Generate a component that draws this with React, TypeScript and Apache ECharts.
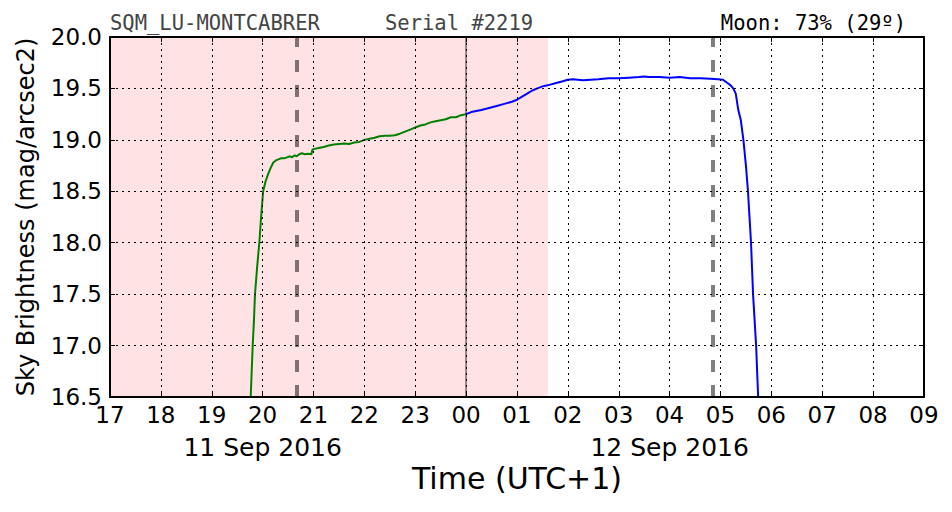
import React, { useEffect, useRef } from "react";
import * as echarts from "echarts";

// Time in decimal hours since 11 Sep 2016 00:00 (UTC+1); >24 means 12 Sep
const greenHours = [
  19.74, 19.766, 19.785, 19.805, 19.83, 19.85, 19.89, 19.935, 19.97, 20.01, 20.06, 20.11, 20.16, 20.21,
  20.26, 20.31, 20.36, 20.42, 20.48, 20.54, 20.58, 20.63, 20.67, 20.72, 20.77, 20.83, 20.9, 20.96,
  20.975, 21.0, 21.1, 21.2, 21.3, 21.4, 21.5, 21.6, 21.7, 21.8, 21.9, 22.0, 22.1, 22.2, 22.3, 22.4,
  22.5, 22.6, 22.7, 22.8, 22.9, 23.0, 23.1, 23.2, 23.3, 23.4, 23.5, 23.6, 23.7, 23.8, 23.9, 24.0,
];
const greenValues = [
  16.3, 16.5, 16.75, 17.0, 17.25, 17.5, 17.75, 18.0, 18.25, 18.5, 18.6, 18.67, 18.73, 18.78,
  18.8, 18.81, 18.82, 18.82, 18.83, 18.84, 18.83, 18.85, 18.84, 18.86, 18.87, 18.86, 18.865, 18.86,
  18.9, 18.91, 18.92, 18.93, 18.945, 18.955, 18.96, 18.965, 18.96, 18.975, 18.98, 19.0, 19.01, 19.02, 19.035, 19.04,
  19.04, 19.045, 19.06, 19.08, 19.1, 19.12, 19.14, 19.15, 19.17, 19.18, 19.19, 19.2, 19.22, 19.22, 19.24, 19.25,
];
const blueHours = [
  24.0, 24.1, 24.2, 24.3, 24.45, 24.6, 24.75, 24.9, 25.0, 25.1, 25.2, 25.3, 25.4, 25.5, 25.6, 25.75,
  25.9, 26.0, 26.1, 26.2, 26.3, 26.45, 26.6, 26.8, 27.0, 27.2, 27.4, 27.5, 27.6, 27.8, 28.0, 28.2,
  28.4, 28.6, 28.8, 28.95, 29.05, 29.13, 29.2, 29.25, 29.3, 29.35, 29.4, 29.45, 29.5, 29.54, 29.57,
  29.6, 29.62, 29.64, 29.67, 29.7, 29.72, 29.74, 29.75,
];
const blueValues = [
  19.25, 19.27, 19.28, 19.29, 19.31, 19.33, 19.35, 19.37, 19.39, 19.42, 19.45, 19.48, 19.5, 19.52, 19.53, 19.55,
  19.57, 19.585, 19.59, 19.585, 19.58, 19.585, 19.59, 19.6, 19.6, 19.605, 19.61, 19.615, 19.61, 19.61, 19.605, 19.61,
  19.6, 19.6, 19.595, 19.59, 19.585, 19.555, 19.53, 19.5, 19.45, 19.29, 19.19, 19.0, 18.75, 18.5, 18.25,
  18.0, 17.75, 17.5, 17.25, 17.0, 16.75, 16.5, 16.3,
];

const xMin = 17;
const xMax = 33;
const yMin = 16.5;
const yMax = 20.0;
const nightSpan = [17, 25.61];
const midnightHour = 24;
const dashedHours = [20.675, 28.85];
const dateLabelHours = [20, 28];
const dateLabels = ["11 Sep 2016", "12 Sep 2016"];
const titleLeft = "SQM_LU-MONTCABRER";
const titleSerial = "Serial #2219";
const titleMoon = "Moon: 73% (29º)";

const FONT = "'DejaVu Sans', sans-serif";
const MONO = "'DejaVu Sans Mono', monospace";

export default function App() {
  const ref = useRef<HTMLDivElement>(null);
  useEffect(() => {
    if (!ref.current) return;
    const chart = echarts.init(ref.current, undefined, { renderer: "svg" });
    const dotted = { show: true, lineStyle: { color: "#000", width: 1, type: [2, 4] as any } };
    const tick = { show: true, inside: true, length: 5, lineStyle: { color: "#000", width: 1 } };
    const frame = { show: true, lineStyle: { color: "#000", width: 2 } };
    const hourFmt = (v: number) => String(Math.round(v) % 24).padStart(2, "0");
    chart.setOption({
      animation: false,
      grid: { left: 110, right: 28, top: 37, bottom: 115 },
      xAxis: [
        {
          type: "value", min: xMin, max: xMax, interval: 1, position: "bottom", z: 10,
          axisLine: frame, axisTick: tick, splitLine: dotted,
          axisLabel: { formatter: hourFmt, fontFamily: FONT, fontSize: 23, color: "#000", margin: 6 },
          name: "Time (UTC+1)", nameLocation: "middle", nameGap: 66,
          nameTextStyle: { fontFamily: FONT, fontSize: 30, color: "#000" },
        },
        {
          type: "value", min: xMin, max: xMax, interval: 1, position: "bottom", offset: 32,
          axisLine: { show: false }, axisTick: { show: false }, splitLine: { show: false },
          axisLabel: {
            fontFamily: FONT, fontSize: 25, color: "#000", margin: 6,
            formatter: (v: number) => {
              const i = dateLabelHours.indexOf(Math.round(v));
              return i >= 0 ? dateLabels[i] : "";
            },
          },
        },
        {
          type: "value", min: xMin, max: xMax, interval: 1, position: "top", z: 10,
          axisLine: frame, axisTick: tick, splitLine: { show: false }, axisLabel: { show: false },
        },
      ],
      yAxis: [
        {
          type: "value", min: yMin, max: yMax, interval: 0.5, position: "left", z: 10,
          axisLine: frame, axisTick: tick, splitLine: dotted,
          axisLabel: { formatter: (v: number) => v.toFixed(1), fontFamily: FONT, fontSize: 23, color: "#000", margin: 8 },
          name: "Sky Brightness (mag/arcsec2)", nameLocation: "middle", nameGap: 72,
          nameTextStyle: { fontFamily: FONT, fontSize: 24, color: "#000" },
        },
        {
          type: "value", min: yMin, max: yMax, interval: 0.5, position: "right", z: 10,
          axisLine: frame, axisTick: tick, splitLine: { show: false }, axisLabel: { show: false },
        },
      ],
      graphic: [
        { type: "text", left: 110, top: 12, style: { text: titleLeft, font: `20.5px ${MONO}`, fill: "#444" } },
        { type: "text", left: 385, top: 12, style: { text: titleSerial, font: `20.5px ${MONO}`, fill: "#444" } },
        { type: "text", right: 46, top: 12, style: { text: titleMoon, font: `20.5px ${MONO}`, fill: "#000" } },
      ],
      series: [
        {
          type: "line", xAxisIndex: 0, yAxisIndex: 0, symbol: "none", clip: true, z: 3,
          data: greenHours.map((h, i) => [h, greenValues[i]]),
          lineStyle: { color: "#008000", width: 2 },
          markArea: {
            silent: true,
            itemStyle: { color: "rgba(255,0,20,0.115)" },
            data: [[{ xAxis: nightSpan[0] }, { xAxis: nightSpan[1] }]],
          },
          markLine: {
            silent: true, symbol: "none", label: { show: false },
            data: [
              { xAxis: midnightHour, lineStyle: { color: "rgba(0,0,0,0.55)", width: 1.5, type: "solid" } },
              ...dashedHours.map((h) => ({
                xAxis: h,
                lineStyle: { color: "rgba(0,0,0,0.5)", width: 4, type: [12, 13] as any },
              })),
            ],
          },
        },
        {
          type: "line", xAxisIndex: 0, yAxisIndex: 0, symbol: "none", clip: true, z: 3,
          data: blueHours.map((h, i) => [h, blueValues[i]]),
          lineStyle: { color: "#0000ff", width: 2 },
        },
      ],
    });
    return () => chart.dispose();
  }, []);
  return <div ref={ref} style={{ width: 952, height: 512, position: "absolute", left: 0, top: 0 }} />;
}
